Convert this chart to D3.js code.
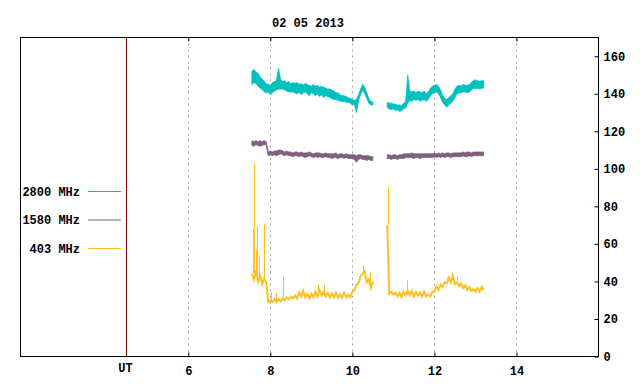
<!DOCTYPE html>
<html>
<head>
<meta charset="utf-8">
<script src="https://cdn.jsdelivr.net/npm/d3@7"></script>
<style>
    body { margin: 0; background: #fff; }
    svg text { font-family: 'Liberation Mono', 'DejaVu Sans Mono', monospace; font-size: 12px; font-weight: bold; fill: #000; }
</style>
</head>
<body>
<svg id="canvas"></svg>
<script>
const title = '02 05 2013'
const hourTicks = [6, 8, 10, 12, 14]
const fluxTicks = [0, 20, 40, 60, 80, 100, 120, 140, 160]
const utHour = 4.47

// samples every 0.05 h, two observing runs
const step = 0.05
const run1Start = 7.55
const run2Start = 10.85

// 2800 MHz (low / high of the noise band)
const f2800Lo1 = [145, 146, 145.5, 144, 143, 142.5, 141, 140.5, 141, 139.5,
    140.5, 141.5, 142, 142.5, 142.5, 142.5, 142, 141.5, 141, 141,
    141, 140.5, 140, 141, 139.5, 140.5, 141, 140, 139, 140.5,
    140, 139, 140, 138.5, 139.5, 138, 139, 138.5, 138, 137.5,
    137, 137, 136.5, 136, 136, 136, 135.5, 135.5, 135, 134,
    134.5, 130, 136.5, 139.5, 142, 140, 137.5, 135, 134, 134]
const f2800Hi1 = [152, 153, 151.5, 151, 149, 148, 146.5, 145.5, 145, 144.5,
    146, 146.5, 147, 153.5, 147.5, 146.5, 147, 146, 146.5, 145.5,
    146, 145.5, 146, 145, 145.5, 144.5, 145.5, 145, 144.5, 144,
    145, 144, 144.5, 143.5, 144, 143.5, 143, 142.5, 142.5, 142,
    141.5, 140.5, 140.5, 139.5, 139, 139, 138.5, 138, 137.5, 137,
    136.5, 137, 139.5, 142.5, 145, 143.5, 140.5, 137.5, 136, 135.5]
const f2800Lo2 = [132.5, 132, 131.5, 132, 131, 131.5, 130.5, 131, 132, 132.5,
    135, 136.5, 136, 137, 136.5, 137, 136, 136.5, 137, 136,
    137, 139, 140, 140.5, 141, 140, 138, 135.5, 134, 133,
    134, 135, 136, 138, 140, 140.5, 140.5, 141, 141, 140.5,
    141, 142, 143, 142.5, 143, 142.5, 143, 143]
const f2800Hi2 = [135.5, 135, 135, 134.5, 134.5, 134, 134, 133.5, 135, 136,
    150, 141.5, 141, 141.5, 140.5, 141.5, 141, 140.5, 141.5, 140,
    141, 143, 144, 144.5, 145, 144, 142, 139, 137.5, 137,
    138, 139, 140, 142.5, 144, 144.5, 144, 145, 144.5, 144.5,
    145, 146, 147, 147.5, 147, 146.5, 147, 147]

// 1580 MHz
const f1580Lo1 = [112.5, 112, 113, 112.5, 112, 112.5, 113, 112.5, 107, 107.5,
    107, 107.5, 107, 107.5, 108, 107.5, 107, 107.5, 107, 107,
    106.5, 107, 107, 106.5, 107, 106.5, 106, 106.5, 107, 106.5,
    106, 106.5, 106, 106.5, 106, 106, 106.5, 106, 106, 105.5,
    106, 106, 105.5, 106, 106, 105.5, 106, 105.5, 105.5, 105.5,
    105, 103.5, 105, 105.5, 105, 105, 104.5, 105, 104.5, 104.5]
const f1580Hi1 = [115, 114.5, 115, 114.5, 115, 114.5, 115, 114.5, 109, 109.5,
    109, 109.5, 109.5, 110, 110, 109.5, 109, 109.5, 109, 109,
    108.5, 109, 109, 108.5, 109, 108.5, 108.5, 108.5, 109, 108.5,
    108, 108.5, 108.5, 108.5, 108, 108, 108.5, 108, 108, 108,
    108, 108.5, 107.5, 108, 108, 107.5, 108, 107.5, 107.5, 107.5,
    107.5, 107, 107.5, 107.5, 107, 107, 107, 107, 106.5, 106.5]
const f1580Lo2 = [105.5, 105.5, 105, 105.5, 105.5, 105, 105.5, 105.5, 105.5, 106,
    106, 106, 106, 105.5, 106, 106, 105.5, 106, 106, 106,
    106, 106, 106, 106.5, 106, 106.5, 106, 106.5, 106, 106.5,
    106.5, 106, 106.5, 106.5, 106.5, 106.5, 106.5, 107, 106.5, 106.5,
    107, 106.5, 107, 107, 107, 107, 107, 107]
const f1580Hi2 = [107.5, 107.5, 107, 107.5, 107.5, 107, 107.5, 107.5, 108, 108,
    108, 108, 108.5, 108, 108, 108, 108, 108, 108, 108,
    108, 108, 108, 108.5, 108, 108.5, 108, 108.5, 108, 108.5,
    108.5, 108, 108.5, 108.5, 108.5, 108.5, 108.5, 109, 108.5, 109,
    109, 108.5, 109, 109, 109, 109, 109, 109]

// 403 MHz
const f403Run1 = [44, 41, 46, 40, 43, 38.5, 41.5, 39.5, 29, 30,
    29, 30.5, 29, 30.5, 29.5, 31, 30, 31.5, 30.5, 32,
    31, 32.5, 31, 34, 32, 35, 31.5, 33.5, 31, 33.5,
    31.5, 34.5, 32, 35.5, 32.5, 34.5, 32, 34, 31.5, 33.5,
    31.5, 34, 31.5, 33, 31.5, 34, 31.5, 33, 31.5, 34.5,
    35.5, 38, 39, 43, 44, 45.5, 39.5, 41, 36.5, 40]
const f403Run2 = [70, 33.5, 34.5, 33, 34, 32, 34, 31.5, 34.5, 32.5,
    35, 32.5, 35, 32, 34.5, 32.5, 34, 32, 34.5, 32,
    33, 32, 34.5, 34.5, 37.5, 35.5, 38.5, 37, 39.5, 39,
    42, 39.5, 43, 38.5, 39.5, 37.5, 39, 36.5, 38, 35.5,
    37, 35, 36, 34.5, 36.5, 34.5, 37, 35.5]
// short bursts: [hour, from, to]
const f403Bursts = [[7.57, 44, 68], [7.59, 42, 103], [7.65, 44, 57], [7.68, 42, 69.5],
    [7.73, 42, 54], [7.85, 41, 71], [8.01, 29.5, 34], [8.13, 29.5, 34], [8.32, 30, 42.5],
    [9.17, 33, 38.5], [9.30, 34, 38], [10.27, 44, 48.5], [10.42, 38, 45],
    [10.86, 70, 90.5], [11.34, 33, 40.5], [12.43, 42, 44.5], [12.55, 38, 43]]

const legendNames = ['2800 MHz', '1580 MHz', '403 MHz']
const colors = ['#00c0c0', '#7f5f7f', '#ffc020']

let width = 640
let height = 384
let svg = d3.select('#canvas')
    .attr('width', width)
    .attr('height', height)

let plotLeft = 20.5, plotRight = 598.5, plotTop = 37.5, plotBottom = 356.5

let xScale = d3.scaleLinear()
    .domain([1.91, 16])
    .range([plotLeft, plotRight])

let yScale = d3.scaleLinear()
    .domain([0, 170])
    .range([plotBottom, plotTop])

// title
svg.append('text')
    .attr('x', 308)
    .attr('y', 27)
    .attr('text-anchor', 'middle')
    .text(title)

// dotted hour grid
svg.append('g')
    .selectAll('line')
    .data(hourTicks)
    .enter()
    .append('line')
    .attr('x1', (d) => Math.round(xScale(d)) + 0.5)
    .attr('x2', (d) => Math.round(xScale(d)) + 0.5)
    .attr('y1', plotTop)
    .attr('y2', plotBottom)
    .attr('stroke', '#a0a0a0')
    .attr('stroke-dasharray', '2,4')

// UT marker
svg.append('line')
    .attr('x1', Math.round(xScale(utHour)) + 0.5)
    .attr('x2', Math.round(xScale(utHour)) + 0.5)
    .attr('y1', plotTop)
    .attr('y2', plotBottom)
    .attr('stroke', '#8b0000')

// turn a run into points
const toPoints = (start, vals) => vals.map((v, i) => [start + i * step, v])
const toBand = (start, lo, hi) => lo.map((v, i) => [start + i * step, v, hi[i]])

let band = d3.area()
    .x((d) => xScale(d[0]))
    .y0((d) => yScale(d[1]))
    .y1((d) => yScale(d[2]))

let line = d3.line()
    .x((d) => xScale(d[0]))
    .y((d) => yScale(d[1]))

let bands = [
    [toBand(run1Start, f2800Lo1, f2800Hi1), colors[0]],
    [toBand(run2Start, f2800Lo2, f2800Hi2), colors[0]],
    [toBand(run1Start, f1580Lo1, f1580Hi1), colors[1]],
    [toBand(run2Start, f1580Lo2, f1580Hi2), colors[1]]
]

svg.append('g')
    .selectAll('path')
    .data(bands)
    .enter()
    .append('path')
    .attr('d', (d) => band(d[0]))
    .attr('fill', (d) => d[1])
    .attr('stroke', (d) => d[1])
    .attr('stroke-width', 0.8)

svg.append('g')
    .selectAll('path')
    .data([toPoints(run1Start, f403Run1), toPoints(run2Start, f403Run2)])
    .enter()
    .append('path')
    .attr('d', line)
    .attr('fill', 'none')
    .attr('stroke', colors[2])
    .attr('stroke-width', 2)

svg.append('g')
    .selectAll('line')
    .data(f403Bursts)
    .enter()
    .append('line')
    .attr('x1', (d) => Math.round(xScale(d[0])) + 0.5)
    .attr('x2', (d) => Math.round(xScale(d[0])) + 0.5)
    .attr('y1', (d) => yScale(d[1]))
    .attr('y2', (d) => yScale(d[2]))
    .attr('stroke', colors[2])
    .attr('stroke-width', 1)

// frame
svg.append('rect')
    .attr('x', plotLeft)
    .attr('y', plotTop)
    .attr('width', plotRight - plotLeft)
    .attr('height', plotBottom - plotTop)
    .attr('fill', 'none')
    .attr('stroke', '#000')

// axes
let xAxis = d3.axisBottom(xScale)
    .tickValues(hourTicks)
    .tickSize(-4)
    .tickPadding(10)
svg.append('g')
    .attr('transform', 'translate(0,' + plotBottom + ')')
    .call(xAxis)

svg.append('g')
    .attr('transform', 'translate(0,' + plotTop + ')')
    .call(d3.axisTop(xScale).tickValues(hourTicks).tickSize(-4).tickFormat(''))

let yAxis = d3.axisRight(yScale)
    .tickValues(fluxTicks)
    .tickSize(-4)
    .tickPadding(5)
svg.append('g')
    .attr('transform', 'translate(' + plotRight + ',0)')
    .call(yAxis)

svg.selectAll('.domain').remove()
svg.selectAll('.tick text')
    .attr('font-family', null)
    .attr('font-size', null)
svg.selectAll('.tick line').attr('stroke', '#000')

svg.append('text')
    .attr('x', xScale(utHour))
    .attr('y', 372)
    .attr('text-anchor', 'middle')
    .text('UT')

// legend
let legend = svg.append('g')
    .selectAll('g')
    .data(legendNames)
    .enter()
    .append('g')
    .attr('transform', (d, i) => 'translate(0,' + (191.5 + i * 28.5) + ')')

legend.append('text')
    .attr('x', 80)
    .attr('y', 4)
    .attr('text-anchor', 'end')
    .text((d) => d)

legend.append('line')
    .attr('x1', 88)
    .attr('x2', 121)
    .attr('stroke', (d, i) => colors[i])
</script>
</body>
</html>
